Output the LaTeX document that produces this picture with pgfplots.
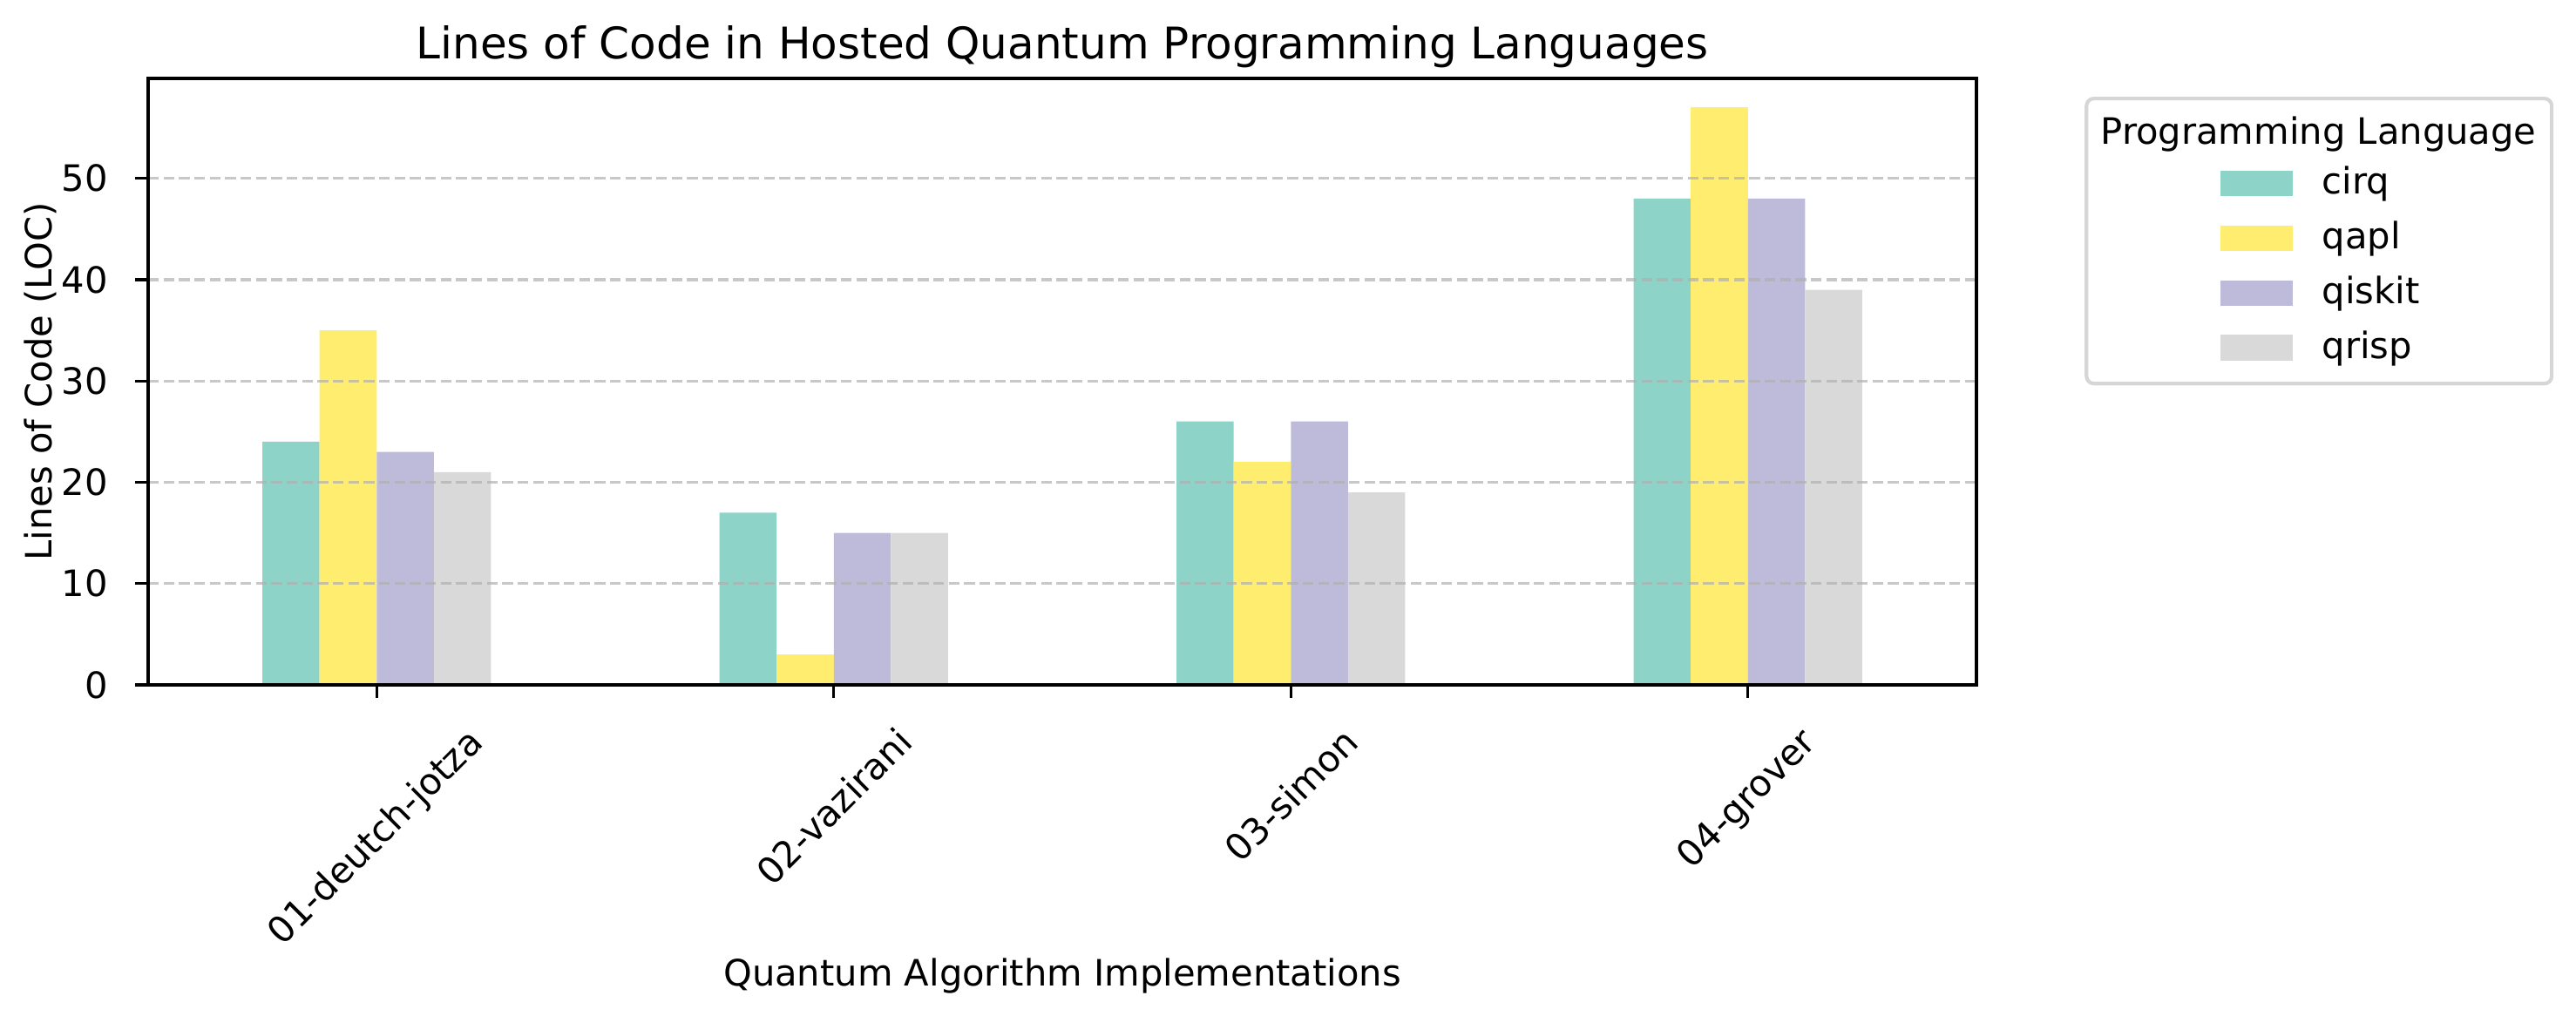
\documentclass[border=0pt]{standalone}
\usepackage{fontspec}
\setmainfont{DejaVu Sans}
\usepackage{graphicx}
\usepackage{pgfplots}
\pgfplotsset{compat=1.18}
\definecolor{cirq}{HTML}{8DD3C7}
\definecolor{qapl}{HTML}{FFED6F}
\definecolor{qiskit}{HTML}{BEBADA}
\definecolor{qrisp}{HTML}{D9D9D9}
\definecolor{gridc}{HTML}{B0B0B0}
\definecolor{legframe}{HTML}{D6D6D6}
\begin{document}
\begin{tikzpicture}
\path[use as bounding box] (-40.8pt,-90.96pt) rectangle (668.6pt,188.64pt);
\begin{axis}[
  scale only axis, width=503.5pt, height=167.04pt,
  xmin=-0.5, xmax=3.5, ymin=0, ymax=59.85,
  ybar, bar width=0.125,
  xtick={0,1,2,3},
  xticklabels={\rotatebox{45}{01-deutch-jotza},\rotatebox{45}{02-vazirani},\rotatebox{45}{03-simon},\rotatebox{45}{04-grover}},
  ytick={0,10,20,30,40,50},
  minor tick num=0,
  tick pos=left,
  tick align=outside, major tick length=3.5pt,
  every tick/.style={black, line width=0.8pt},
  axis line style={line width=0.8pt},
  ymajorgrids,
  major grid style={gridc, opacity=0.7, line width=0.8pt, dash pattern=on 2.96pt off 1.28pt},
  axis on top,
  font=\fontsize{10}{12}\selectfont,
  /pgf/number format/assume math mode=true,
  xticklabel style={anchor=north, inner sep=0pt, yshift=-7.4pt},
  yticklabel style={anchor=east, inner sep=0pt, xshift=-7.4pt},
  title={Lines of Code in Hosted Quantum Programming Languages},
  title style={font=\fontsize{12}{14.4}\selectfont, at={(axis description cs:0.5,1)}, anchor=base, yshift=-0.6pt},
  xlabel={Quantum Algorithm Implementations},
  xlabel style={at={(axis description cs:0.5,0)}, anchor=base, yshift=-83pt},
  ylabel={Lines of Code (LOC)},
  ylabel style={at={(axis description cs:0,0.5)}, anchor=center, yshift=29.6pt},
  legend image code/.code={\fill[#1] (0pt,-3.5pt) rectangle (20pt,3.5pt);},
  legend cell align=left,
  legend style={at={(axis description cs:1.1331,0.8557)}, anchor=north west, draw=none, fill=none,
    inner sep=0pt, column sep=8pt, row sep=6pt, font=\fontsize{10}{12}\selectfont, nodes={inner sep=0pt}},
]
\addplot[fill=cirq, draw=none, bar shift=-0.1875] coordinates {(0,24) (1,17) (2,26) (3,48)};
\addlegendentry{\rule[-2.4pt]{0pt}{10pt}cirq}
\addplot[fill=qapl, draw=none, bar shift=-0.0625] coordinates {(0,35) (1,3) (2,22) (3,57)};
\addlegendentry{\rule[-2.4pt]{0pt}{10pt}qapl}
\addplot[fill=qiskit, draw=none, bar shift=0.0625] coordinates {(0,23) (1,15) (2,26) (3,48)};
\addlegendentry{\rule[-2.4pt]{0pt}{10pt}qiskit}
\addplot[fill=qrisp, draw=none, bar shift=0.1875] coordinates {(0,21) (1,15) (2,19) (3,39)};
\addlegendentry{\rule[-2.4pt]{0pt}{10pt}qrisp}
\end{axis}
\node[anchor=base, font=\fontsize{10}{12}\selectfont, inner sep=0pt] at (597.7pt,149.0pt) {Programming Language};
\draw[legframe, line width=1pt, rounded corners=2pt] (533.8pt,83.0pt) rectangle (661.9pt,161.5pt);
\end{tikzpicture}
\end{document}
